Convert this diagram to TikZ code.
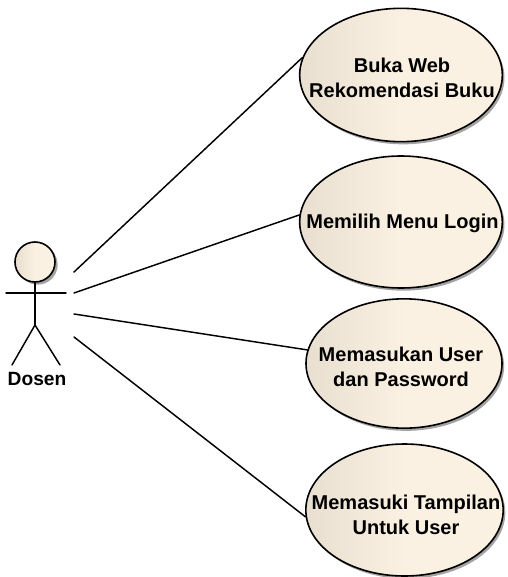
\documentclass[tikz,border=0pt]{standalone}
\usepackage{fontspec}
\setmainfont{Liberation Sans}
\usetikzlibrary{shapes.geometric,shadows}
\tikzset{
  usecase/.style={ellipse,draw=black,line width=1.2pt,inner sep=0pt,
    left color=creamdark,right color=creamlight,middle color=creamlight,
    drop shadow={shadow xshift=1.6pt,shadow yshift=-2pt,fill=black!45,opacity=0.8}},
  casename/.style={align=center,inner sep=0pt,
    font=\fontsize{15pt}{18.8pt}\selectfont\bfseries},
  actorhead/.style={circle,draw=black,line width=1.2pt,minimum size=30pt,inner sep=0pt,
    left color=creamdark,right color=creamlight,middle color=creamlight,
    drop shadow={shadow xshift=2pt,shadow yshift=-2pt,fill=black!45,opacity=0.8}},
  actorname/.style={font=\fontsize{14.4pt}{15pt}\selectfont\bfseries},
  link/.style={line width=1.1pt,line cap=round}
}
\definecolor{creamdark}{HTML}{E8DFD1}
\definecolor{creamlight}{HTML}{FBF1E2}
\begin{document}
\begin{tikzpicture}[x=0.75pt,y=-0.75pt]
      \useasboundingbox (0,0) rectangle (507,577);
      \draw
        (401,75) node[usecase,minimum width=152pt,minimum height=100pt] (buka){}
        (401,222) node[usecase,minimum width=152pt,minimum height=99pt] (login){}
        (404,363.5) node[usecase,minimum width=147pt,minimum height=97pt] (user){}
        (404.5,510) node[usecase,minimum width=148pt,minimum height=99pt] (tampil){}
        (402,77.5) node[casename] (bukaname){Buka Web\\Rekomendasi Buku}
        (402.5,223) node[casename] (loginname){Memilih Menu Login}
        (401,366.5) node[casename] (username){Memasukan User\\dan Password}
        (406,514.5) node[casename] (tampilname){Memasuki Tampilan\\Untuk User}
        (35,262) node[actorhead] (head){}
        (37,379) node[actorname] (dosen){Dosen};
      \coordinate (armL) at (6,293);
      \coordinate (armR) at (66,293);
      \coordinate (hip) at (35,325);
      \coordinate (legL) at (12,365);
      \coordinate (legR) at (60,365);
      \coordinate (a1) at (74,272);
      \coordinate (a2) at (74,293);
      \coordinate (a3) at (74,314);
      \coordinate (a4) at (74,337);
      \begin{scope}[link]
        \draw (head) to (hip);
        \draw (armL) to (armR);
        \draw (hip) to (legL);
        \draw (hip) to (legR);
        \draw (a1) to (buka.170);
        \draw (a2) to (login.176);
        \draw (a3) to (user.172);
        \draw (a4) to (tampil.184);
      \end{scope}
    \end{tikzpicture}
\end{document}
